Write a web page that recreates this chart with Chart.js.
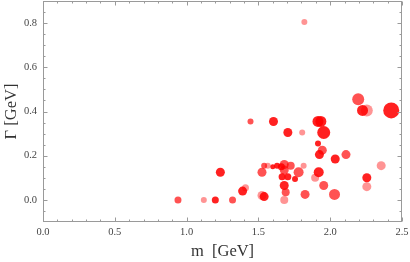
<!DOCTYPE html>
<html>
<head>
<meta charset="utf-8">
<script src="https://cdn.jsdelivr.net/npm/chart.js@4"></script>
<style>
  html, body { margin: 0; padding: 0; background: #fff; }
  #wrap { width: 410px; height: 262px; position: relative; }
</style>
</head>
<body>
<div id="wrap"><canvas id="c" width="410" height="262"></canvas></div>
<script>
// Mass m [GeV]
const mass = [0.94, 1.12, 1.20, 1.32, 1.235, 1.39, 1.41, 1.445, 1.525, 1.54,
  1.525, 1.54, 1.605, 1.565, 1.60, 1.63, 1.66, 1.68, 1.725, 1.815,
  1.705, 1.805, 1.68, 1.665, 1.705, 1.755, 1.78, 1.68, 1.69, 1.68,
  1.825, 1.895, 1.92, 1.955, 2.03, 1.915, 1.935, 1.955, 1.915, 1.945,
  1.925, 2.035, 2.11, 2.195, 2.225, 2.255, 2.425, 2.255, 2.255, 2.355, 1.82];
// Width Γ [GeV]
const width = [0.00, 0.00, 0.00, 0.00, 0.125, 0.04, 0.055, 0.355, 0.125, 0.155,
  0.02, 0.015, 0.355, 0.155, 0.15, 0.155, 0.15, 0.16, 0.155, 0.155,
  0.305, 0.305, 0.135, 0.105, 0.105, 0.095, 0.125, 0.065, 0.035, 0.00,
  0.025, 0.10, 0.125, 0.065, 0.025, 0.355, 0.355, 0.305, 0.255, 0.225,
  0.205, 0.185, 0.205, 0.455, 0.405, 0.405, 0.405, 0.10, 0.06, 0.155, 0.805];
// Bubble size
const size = [3.5, 3, 3.5, 3.5, 4.5, 4.5, 3.5, 3, 4.5, 3,
  4.5, 4.5, 4.5, 3, 2.5, 3, 3.5, 4.5, 4, 3,
  4.5, 3, 4.5, 3.5, 3.5, 3, 5, 4.5, 4, 4,
  4.5, 4, 5, 4.5, 5.5, 5.5, 5.5, 6.5, 3, 4.5,
  4.5, 4.5, 4.5, 6, 5.5, 6, 8, 4.5, 4.5, 4.5, 3];
// Status tier (1 = established, 2 = likely, 3 = uncertain)
const tier = [2, 3, 1, 2, 1, 1, 3, 2, 2, 2,
  3, 1, 1, 3, 1, 1, 1, 2, 2, 3,
  1, 3, 2, 1, 1, 1, 2, 1, 2, 3,
  2, 3, 1, 2, 2, 1, 1, 1, 1, 2,
  1, 1, 2, 2, 1, 3, 1, 1, 3, 3, 3];

const xTicks = [0.0, 0.5, 1.0, 1.5, 2.0, 2.5];
const yTicks = [0.0, 0.2, 0.4, 0.6, 0.8];

const tierColor = { 1: 'rgba(255,0,0,0.87)', 2: 'rgba(255,0,0,0.68)', 3: 'rgba(255,0,0,0.42)' };

const points = mass.map((m, i) => ({ x: m, y: width[i], r: size[i] }));
const colors = tier.map(t => tierColor[t]);

const framePlugin = {
  id: 'frame',
  afterDraw(chart) {
    const { ctx, chartArea: a, scales: { x, y } } = chart;
    ctx.save();
    ctx.strokeStyle = '#9a9a9a';
    ctx.lineWidth = 1;
    ctx.strokeRect(Math.round(a.left) + 0.5, Math.round(a.top) + 0.5,
      Math.round(a.right - a.left) - 1, Math.round(a.bottom - a.top) - 1);
    ctx.beginPath();
    const xMin = [];
    for (let k = 1; k < 25; k++) if (k % 5) xMin.push(k / 10);
    const yMin = [];
    for (let k = -1; k <= 17; k++) if (k % 4) yMin.push(k / 20);
    const L = Math.round(a.left) + 0.5, R = Math.round(a.right) - 0.5;
    const T = Math.round(a.top) + 0.5, B = Math.round(a.bottom) - 0.5;
    const xt = (v, len) => {
      const px = Math.round(x.getPixelForValue(v)) + 0.5;
      ctx.moveTo(px, B); ctx.lineTo(px, B - len);
      ctx.moveTo(px, T); ctx.lineTo(px, T + len);
    };
    const yt = (v, len) => {
      const py = Math.round(y.getPixelForValue(v)) + 0.5;
      ctx.moveTo(L, py); ctx.lineTo(L + len, py);
      ctx.moveTo(R, py); ctx.lineTo(R - len, py);
    };
    xTicks.forEach(v => xt(v, 4));
    xMin.forEach(v => xt(v, 2));
    yTicks.forEach(v => yt(v, 4));
    yMin.forEach(v => yt(v, 2));
    ctx.stroke();
    ctx.restore();
  }
};

new Chart(document.getElementById('c'), {
  type: 'bubble',
  data: {
    datasets: [{
      data: points,
      backgroundColor: colors,
      borderWidth: 0,
      hoverBorderWidth: 0
    }]
  },
  options: {
    responsive: false,
    animation: false,
    events: [],
    layout: { autoPadding: false, padding: { top: 1, right: 8, left: 0, bottom: 0 } },
    plugins: { legend: { display: false }, tooltip: { enabled: false } },
    scales: {
      x: {
        type: 'linear', min: 0, max: 2.5,
        grid: { display: false, drawTicks: false },
        border: { display: false },
        afterBuildTicks: s => { s.ticks = xTicks.map(v => ({ value: v })); },
        afterFit: s => { s.height = 40; s.paddingLeft = 0; s.paddingRight = 0; },
        ticks: {
          padding: 4, color: '#444', maxRotation: 0,
          font: { family: '"Liberation Serif", "DejaVu Serif", serif', size: 10.5 },
          callback: v => Number(v).toFixed(1)
        },
        title: {
          display: true, text: 'm  [GeV]', color: '#333',
          font: { family: '"Liberation Serif", "DejaVu Serif", serif', size: 16.5 },
          padding: { top: 0, bottom: 0 }
        }
      },
      y: {
        type: 'linear', min: -0.1, max: 0.9,
        grid: { display: false, drawTicks: false },
        border: { display: false },
        afterBuildTicks: s => { s.ticks = yTicks.map(v => ({ value: v })); },
        afterFit: s => { s.width = 43; s.paddingTop = 0; s.paddingBottom = 0; },
        ticks: {
          padding: 6, color: '#444',
          font: { family: '"Liberation Serif", "DejaVu Serif", serif', size: 10.5 },
          callback: v => Number(v).toFixed(1)
        },
        title: {
          display: true, text: 'Γ [GeV]', color: '#333',
          font: { family: '"Liberation Serif", "DejaVu Serif", serif', size: 16.5 },
          padding: { top: 2, bottom: 0 }
        }
      }
    }
  },
  plugins: [framePlugin]
});
</script>
</body>
</html>
